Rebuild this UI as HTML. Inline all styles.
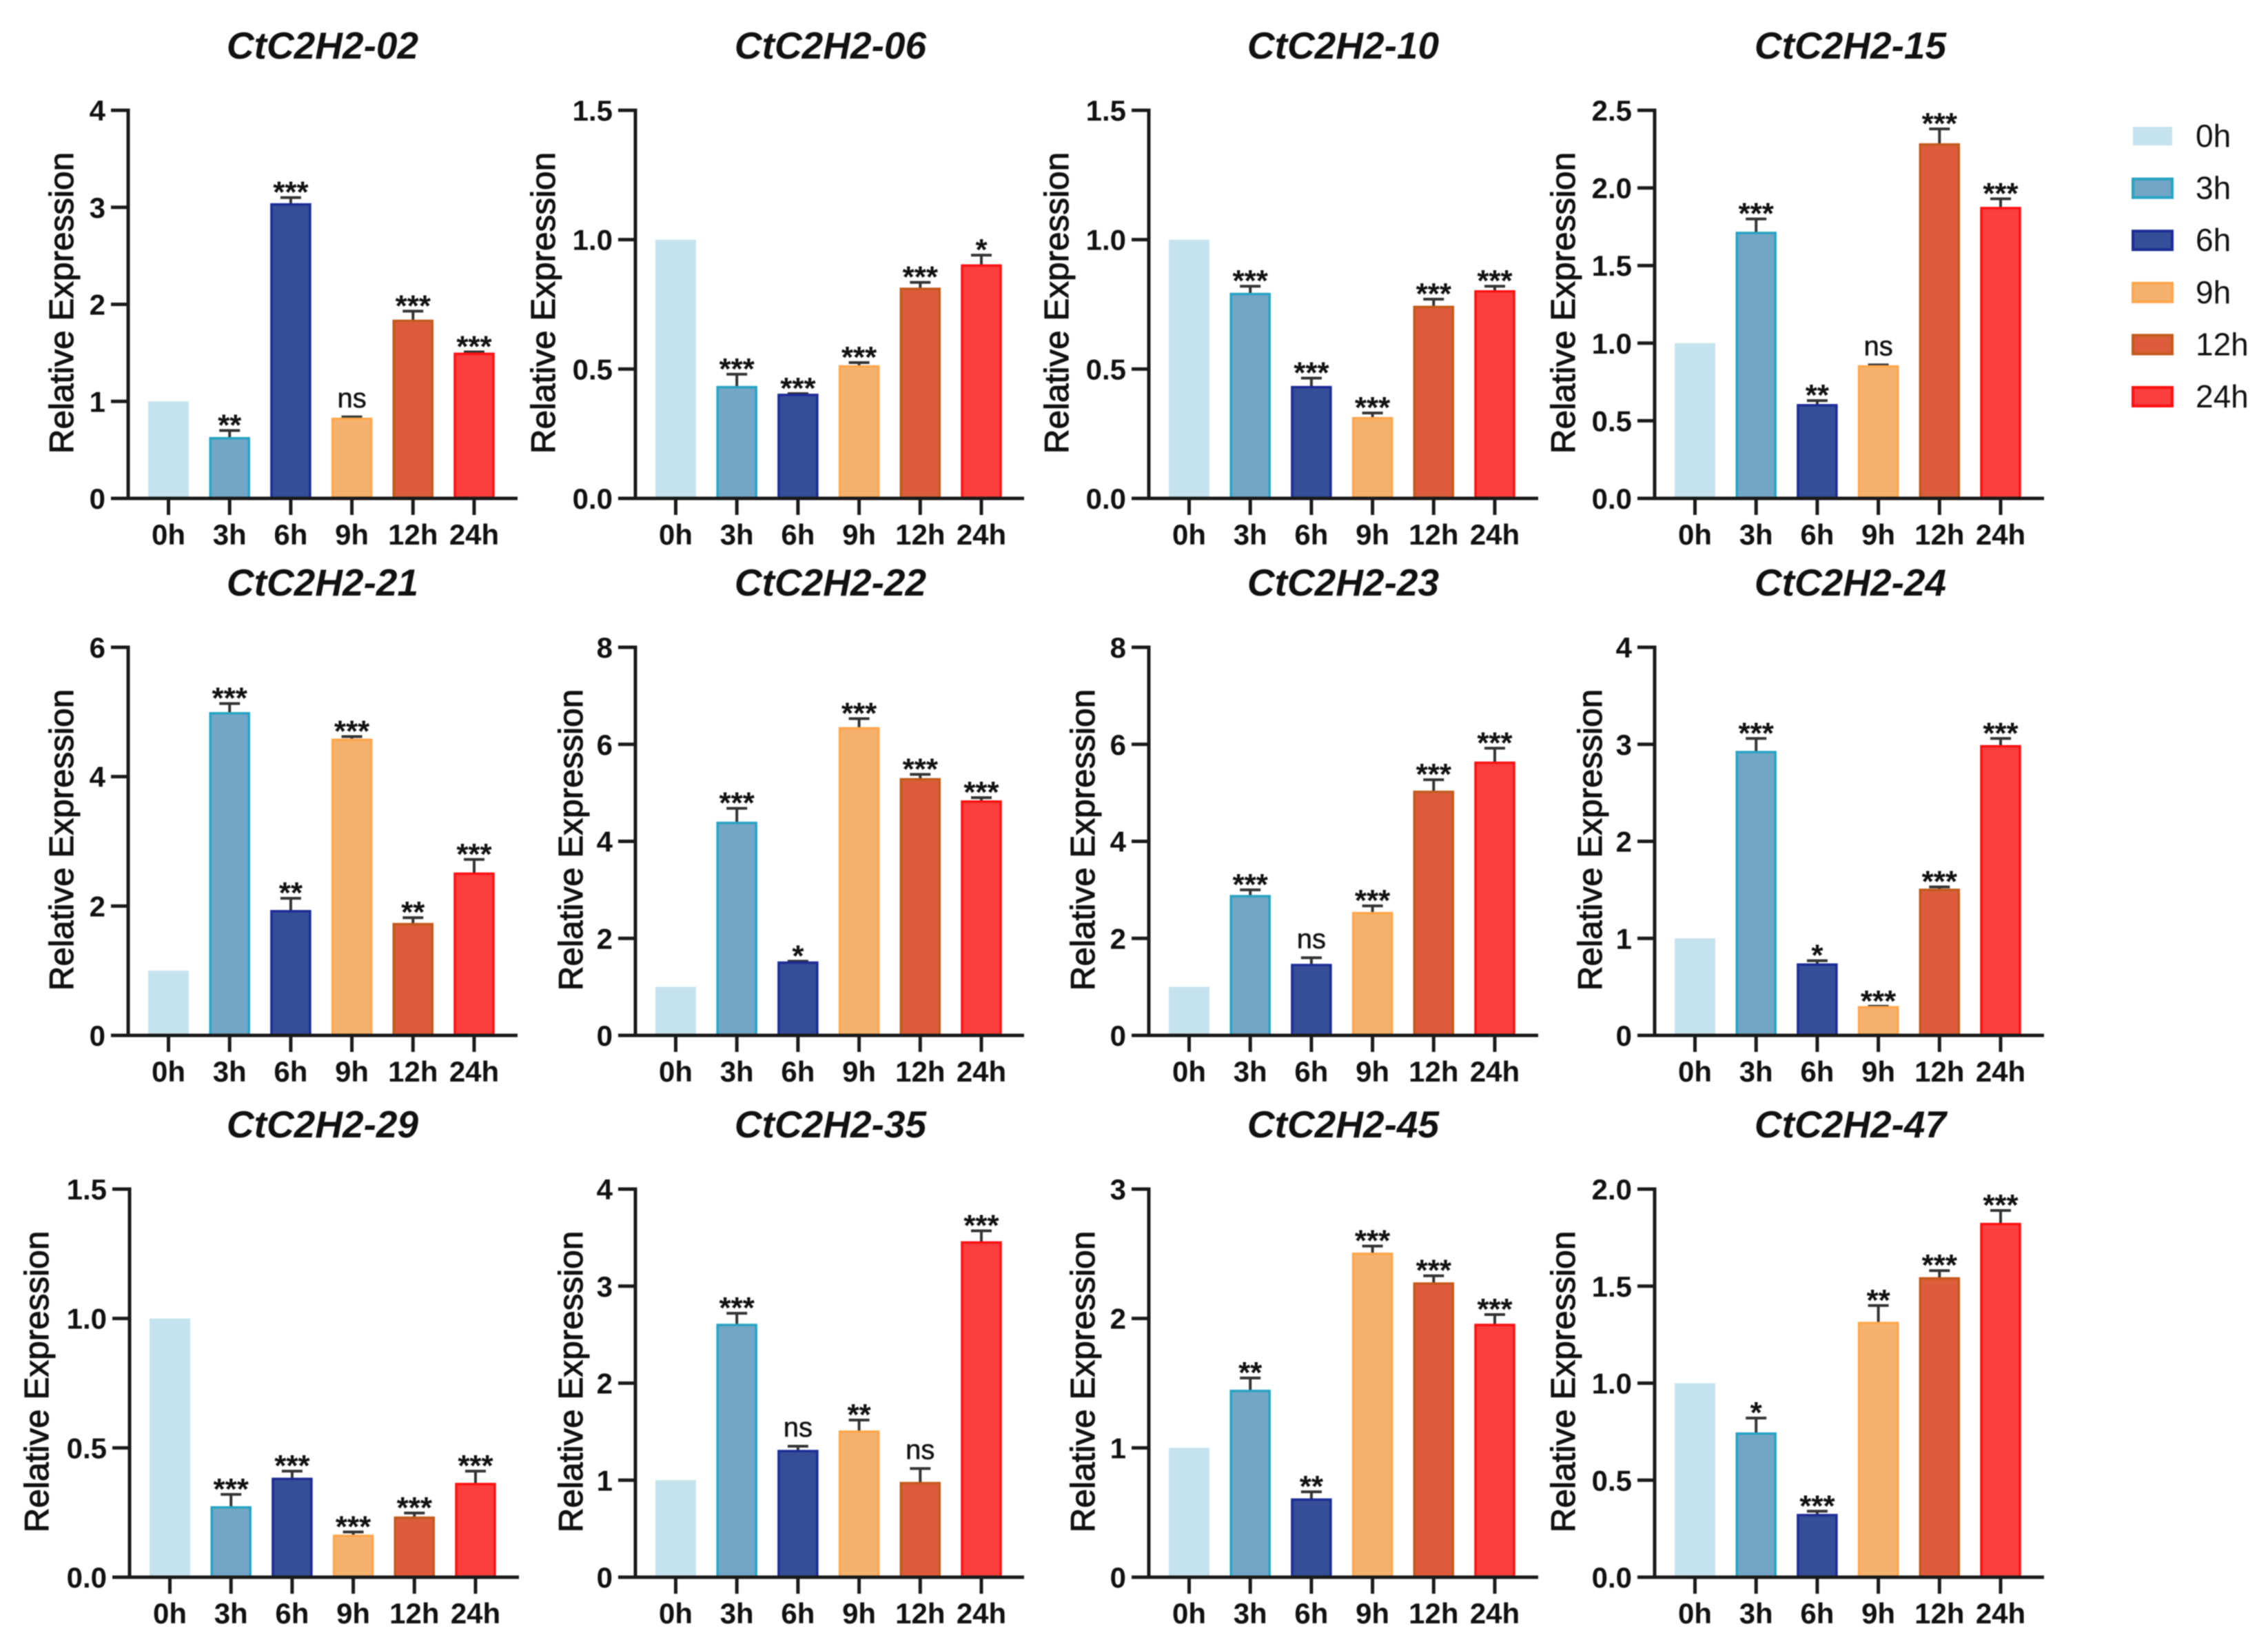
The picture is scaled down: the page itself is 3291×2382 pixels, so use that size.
<!DOCTYPE html>
<html lang="en">
<head>
<meta charset="utf-8">
<title>CtC2H2 relative expression</title>
<style>
html,body{margin:0;padding:0;background:#fff;width:3291px;height:2382px;overflow:hidden}
#figure{display:block;filter:blur(0.9px)}
text{font-family:"Liberation Sans",sans-serif;fill:#111}
</style>
</head>
<body>
<svg id="figure" xmlns="http://www.w3.org/2000/svg" width="3291" height="2382" viewBox="0 0 3291 2382"></svg>
<script>
const categories = ['0h', '3h', '6h', '9h', '12h', '24h'];

const genes = ['CtC2H2-02', 'CtC2H2-06', 'CtC2H2-10', 'CtC2H2-15', 'CtC2H2-21', 'CtC2H2-22', 'CtC2H2-23', 'CtC2H2-24', 'CtC2H2-29', 'CtC2H2-35', 'CtC2H2-45', 'CtC2H2-47'];

const values02 = [1, 0.62, 3.03, 0.82, 1.83, 1.49];
const errors02 = [0, 0.08, 0.07, 0.02, 0.10, 0.02];
const signif02 = ['', '**', '***', 'ns', '***', '***'];
const ticks02 = ['0', '1', '2', '3', '4'];

const values06 = [1, 0.43, 0.40, 0.51, 0.81, 0.90];
const errors06 = [0, 0.05, 0.005, 0.015, 0.025, 0.04];
const signif06 = ['', '***', '***', '***', '***', '*'];
const ticks06 = ['0.0', '0.5', '1.0', '1.5'];

const values10 = [1, 0.79, 0.43, 0.31, 0.74, 0.80];
const errors10 = [0, 0.03, 0.035, 0.02, 0.03, 0.02];
const signif10 = ['', '***', '***', '***', '***', '***'];
const ticks10 = ['0.0', '0.5', '1.0', '1.5'];

const values15 = [1, 1.71, 0.60, 0.85, 2.28, 1.87];
const errors15 = [0, 0.09, 0.03, 0.01, 0.10, 0.06];
const signif15 = ['', '***', '**', 'ns', '***', '***'];
const ticks15 = ['0.0', '0.5', '1.0', '1.5', '2.0', '2.5'];

const values21 = [1, 4.98, 1.92, 4.57, 1.72, 2.50];
const errors21 = [0, 0.15, 0.20, 0.05, 0.10, 0.22];
const signif21 = ['', '***', '**', '***', '**', '***'];
const ticks21 = ['0', '2', '4', '6'];

const values22 = [1, 4.38, 1.50, 6.33, 5.28, 4.82];
const errors22 = [0, 0.30, 0.03, 0.20, 0.10, 0.08];
const signif22 = ['', '***', '*', '***', '***', '***'];
const ticks22 = ['0', '2', '4', '6', '8'];

const values23 = [1, 2.87, 1.45, 2.52, 5.02, 5.62];
const errors23 = [0, 0.13, 0.15, 0.15, 0.25, 0.30];
const signif23 = ['', '***', 'ns', '***', '***', '***'];
const ticks23 = ['0', '2', '4', '6', '8'];

const values24 = [1, 2.92, 0.73, 0.29, 1.50, 2.98];
const errors24 = [0, 0.14, 0.04, 0.01, 0.03, 0.08];
const signif24 = ['', '***', '*', '***', '***', '***'];
const ticks24 = ['0', '1', '2', '3', '4'];

const values29 = [1, 0.27, 0.38, 0.16, 0.23, 0.36];
const errors29 = [0, 0.05, 0.03, 0.015, 0.018, 0.05];
const signif29 = ['', '***', '***', '***', '***', '***'];
const ticks29 = ['0.0', '0.5', '1.0', '1.5'];

const values35 = [1, 2.60, 1.30, 1.50, 0.97, 3.45];
const errors35 = [0, 0.12, 0.05, 0.12, 0.15, 0.12];
const signif35 = ['', '***', 'ns', '**', 'ns', '***'];
const ticks35 = ['0', '1', '2', '3', '4'];

const values45 = [1, 1.44, 0.60, 2.50, 2.27, 1.95];
const errors45 = [0, 0.10, 0.06, 0.06, 0.06, 0.08];
const signif45 = ['', '**', '**', '***', '***', '***'];
const ticks45 = ['0', '1', '2', '3'];

const values47 = [1, 0.74, 0.32, 1.31, 1.54, 1.82];
const errors47 = [0, 0.08, 0.02, 0.09, 0.04, 0.07];
const signif47 = ['', '*', '***', '**', '***', '***'];
const ticks47 = ['0.0', '0.5', '1.0', '1.5', '2.0'];

const allValues = [values02, values06, values10, values15, values21, values22, values23, values24, values29, values35, values45, values47];
const allErrors = [errors02, errors06, errors10, errors15, errors21, errors22, errors23, errors24, errors29, errors35, errors45, errors47];
const allSignif = [signif02, signif06, signif10, signif15, signif21, signif22, signif23, signif24, signif29, signif35, signif45, signif47];
const allTicks = [ticks02, ticks06, ticks10, ticks15, ticks21, ticks22, ticks23, ticks24, ticks29, ticks35, ticks45, ticks47];

/* layout and style */
const fills = ['#c5e3ee', '#72a5c6', '#354e97', '#f5b26e', '#dd5c3b', '#fb3e3e'];
const strokes = ['none', '#27a3c2', '#1c2b95', '#ffa64d', '#c25a1c', '#ff1010'];
const layoutColX = [186, 922, 1667, 2401];
const layoutRowTop = [160, 939, 1725];
const layoutRowBottom = [723, 1502, 2288];
const layoutColEnd = [751, 1486, 2232, 2966];
const layoutLabelX = [[88, 787, 1532, 2267], [88, 827, 1570, 2306], [52, 827, 1570, 2267]];
const layoutTitleX = [468, 1205, 1949, 2685];

const NS = 'http://www.w3.org/2000/svg';
const root = document.getElementById('figure');

function make(parent, tag, attrs, content) {
  const el = document.createElementNS(NS, tag);
  for (const k in attrs) el.setAttribute(k, attrs[k]);
  if (content !== undefined) el.textContent = content;
  parent.appendChild(el);
  return el;
}

function drawPanel(index) {
  const col = index % 4;
  const row = Math.floor(index / 4);
  const nudge = (index === 8) ? 2 : 0;
  const axisX = layoutColX[col] + nudge;
  const top = layoutRowTop[row];
  const bottom = layoutRowBottom[row];
  const axisEnd = layoutColEnd[col] + nudge;
  const values = allValues[index];
  const errors = allErrors[index];
  const signif = allSignif[index];
  const ticks = allTicks[index];
  const yMax = parseFloat(ticks[ticks.length - 1]);
  const yScale = function (v) { return bottom - (v / yMax) * (bottom - top); };
  const xScale = function (i) { return axisX + 58.5 + i * 88.7; };
  const barWidth = 56;

  const panel = make(root, 'g', {});
  
  

  const title = make(panel, 'text', {x: layoutTitleX[col], y: top - 75, 'text-anchor': 'middle', 'font-size': 55, 'font-weight': 'bold', 'font-style': 'italic'}, genes[index]);
  
  

  const labelX = layoutLabelX[row][col];
  const labelY = (top + bottom) / 2 - 2;
  const yLabel = make(panel, 'text', {x: 0, y: 0, transform: 'translate(' + (labelX + 18) + ',' + labelY + ') rotate(-90)', 'text-anchor': 'middle', 'font-size': 49.5, stroke: '#111', 'stroke-width': 1.1}, 'Relative Expression');
  
  

  values.forEach(function (v, i) {
    const cx = xScale(i);
    const yv = yScale(v);
    const err = errors[i];
    if (err > 0) {
      const yErr = yScale(v + err);
      const stem = make(panel, 'line', {x1: cx, x2: cx, y1: yv, y2: yErr, stroke: '#333', 'stroke-width': 4});
      
      
      const cap = make(panel, 'line', {x1: cx - 15, x2: cx + 15, y1: yErr, y2: yErr, stroke: '#333', 'stroke-width': 4});
      
      
    }
    const halfBar = (i === 0) ? 29.5 : 28;
    const bar = make(panel, 'rect', {x: cx - halfBar, y: yv, width: halfBar * 2, height: bottom - yv, fill: fills[i], stroke: strokes[i], 'stroke-width': 3.5});
    
    

    if (signif[i]) {
      const capY = yScale(v + err);
      const isNs = signif[i] === 'ns';
      const mark = make(panel, 'text', {x: cx, y: isNs ? capY - 14 : capY + 7, 'text-anchor': 'middle', 'font-size': isNs ? 40 : 44, 'font-weight': isNs ? 'normal' : 'bold', fill: '#222', stroke: isNs ? '#222' : 'none', 'stroke-width': 0.6}, signif[i]);
      
      
    }
  });

  const yAxis = make(panel, 'line', {x1: axisX, x2: axisX, y1: top - 2.5, y2: bottom + 2.5, stroke: '#1a1a1a', 'stroke-width': 5});
  
  
  const xAxis = make(panel, 'line', {x1: axisX - 25, x2: axisEnd, y1: bottom, y2: bottom, stroke: '#1a1a1a', 'stroke-width': 5});
  
  

  ticks.forEach(function (t) {
    const ty = yScale(parseFloat(t));
    if (parseFloat(t) > 0) {
      const mark = make(panel, 'line', {x1: axisX - 25, x2: axisX, y1: ty, y2: ty, stroke: '#1a1a1a', 'stroke-width': 5});
      
      
    }
    const label = make(panel, 'text', {x: axisX - 33, y: ty + 15, 'text-anchor': 'end', 'font-size': 42, 'font-weight': 'bold'}, t);
    
    
  });

  categories.forEach(function (c, i) {
    const cx = xScale(i);
    const mark = make(panel, 'line', {x1: cx, x2: cx, y1: bottom, y2: bottom + 24, stroke: '#1a1a1a', 'stroke-width': 5});
    
    
    const label = make(panel, 'text', {x: cx, y: bottom + 67, 'text-anchor': 'middle', 'font-size': 42, 'font-weight': 'bold'}, c);
    
    
  });
}

genes.forEach(function (g, i) { drawPanel(i); });

const legend = make(root, 'g', {});


categories.forEach(function (c, i) {
  const ly = 184 + i * 75.6;
  const swatch = make(legend, 'rect', {x: 3095, y: ly, width: 57, height: 27, fill: fills[i], stroke: strokes[i], 'stroke-width': 4});
  
  
  const text = make(legend, 'text', {x: 3186, y: ly + 29, 'font-size': 46}, c);
  
  
});
</script>
</body>
</html>
